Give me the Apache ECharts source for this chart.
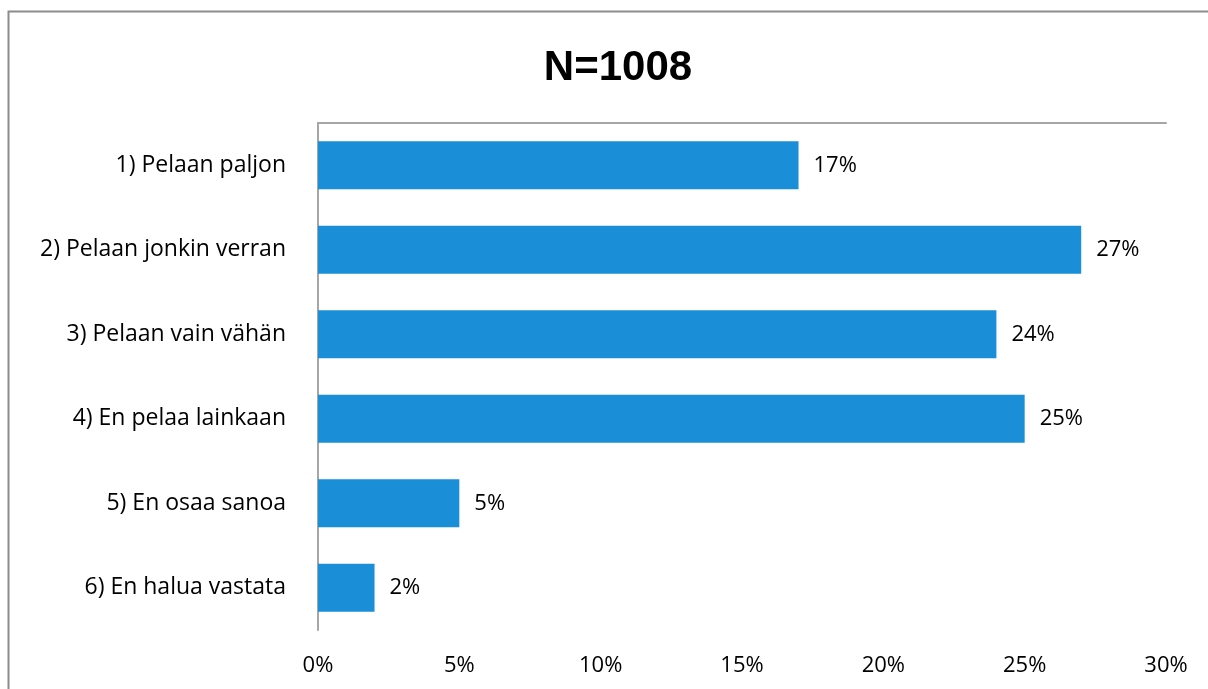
<!DOCTYPE html>
<html><head><meta charset="utf-8">
<script src="https://cdn.jsdelivr.net/npm/echarts@6/dist/echarts.min.js"></script>
<style>html,body{margin:0;padding:0;background:#fff}#c{width:1208px;height:689px}</style>
</head><body><div id="c"></div>
<script>
const title = 'N=1008';
const categories = ['1) Pelaan paljon', '2) Pelaan jonkin verran', '3) Pelaan vain vähän', '4) En pelaa lainkaan', '5) En osaa sanoa', '6) En halua vastata'];
const values = [17, 27, 24, 25, 5, 2];
const xTicks = [0, 5, 10, 15, 20, 25, 30];

const chart = echarts.init(document.getElementById('c'), null, {renderer: 'canvas'});
const font = '"Open Sans", "Noto Sans", sans-serif';
chart.setOption({
  animation: false,
  backgroundColor: '#fff',
  title: {text: title, left: 613, top: 42, textAlign: 'center',
    textStyle: {fontFamily: '"Liberation Sans", Arial, sans-serif', fontWeight: 'bold', fontSize: 42, color: '#000'}},
  graphic: [{type: 'rect', shape: {x: 8.5, y: 11.5, width: 1400, height: 900},
    style: {fill: 'none', stroke: '#8c8c8c', lineWidth: 2}, silent: true}],
  grid: {left: 318, right: 42, top: 123, bottom: 59, containLabel: false},
  xAxis: [{type: 'value', min: xTicks[0], max: xTicks[xTicks.length - 1], interval: 5,
    axisLine: {show: false}, axisTick: {show: false}, splitLine: {show: false},
    axisLabel: {formatter: v => v + '%', fontFamily: font, fontSize: 22, color: '#000', margin: 25}},
    {type: 'value', position: 'top', min: 0, max: 30,
     axisLine: {show: true, lineStyle: {color: '#a6a6a6', width: 2}}, axisTick: {show: false},
     axisLabel: {show: false}, splitLine: {show: false}}],
  yAxis: {type: 'category', data: categories, inverse: true,
    axisLine: {show: true, lineStyle: {color: '#a6a6a6', width: 2}}, axisTick: {show: false},
    axisLabel: {fontFamily: font, fontSize: 23, color: '#000', margin: 32}},
  series: [{type: 'bar', data: values, barCategoryGap: '43%',
    itemStyle: {color: '#1a8fd8'},
    label: {show: true, position: 'right', distance: 15, formatter: p => p.value + '%',
      fontFamily: font, fontSize: 22, color: '#000'}}]
});
</script></body></html>
